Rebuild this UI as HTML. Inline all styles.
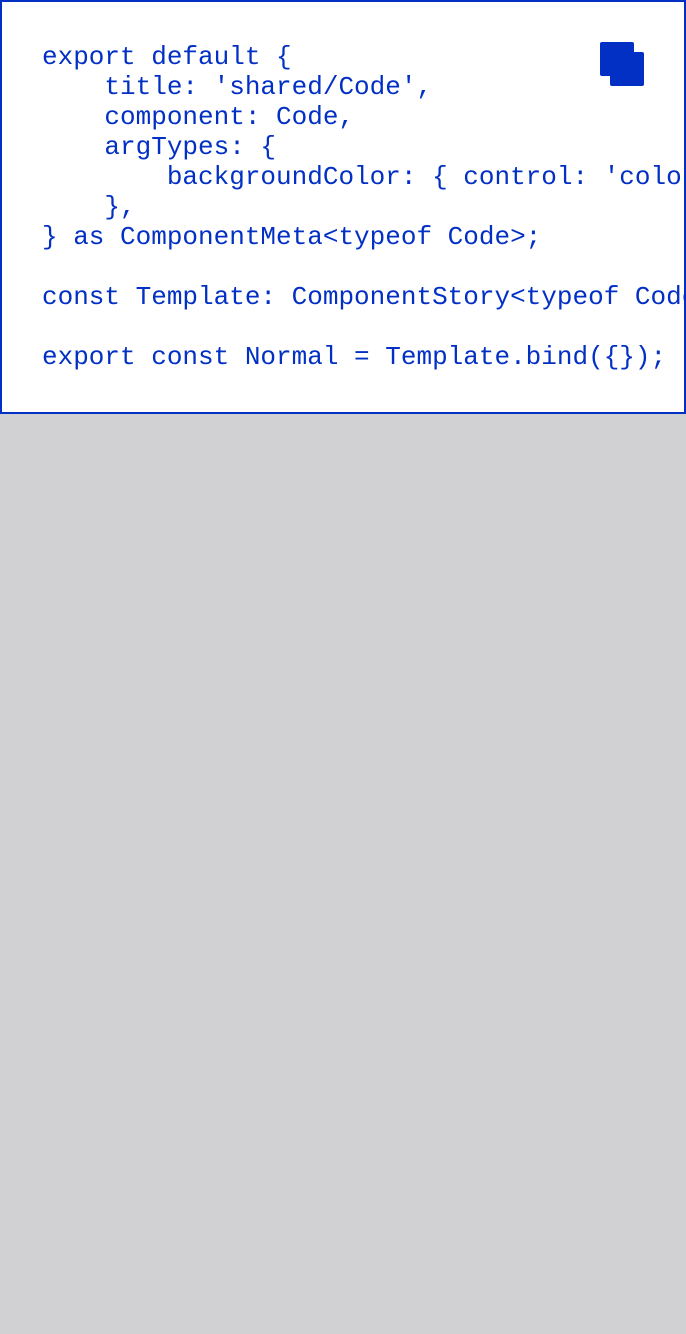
<!DOCTYPE html>
<html><head><meta charset="utf-8"><style>
html,body{margin:0;padding:0;width:686px;height:1334px;background:#d1d1d3;overflow:hidden}
.box{position:absolute;left:0;top:0;width:682px;height:410px;border:2px solid #0330c4;background:#fff;overflow:hidden}
pre{position:absolute;left:40px;top:40px;margin:0;font-family:"Liberation Mono",monospace;font-size:26px;line-height:30px;color:#0330c4;white-space:pre}
.i{position:absolute;background:#0330c4;border-radius:2px;width:34px;height:34px}
</style></head><body>
<div class="box">
<pre>export default {
    title: 'shared/Code',
    component: Code,
    argTypes: {
        backgroundColor: { control: 'color' },
    },
} as ComponentMeta&lt;typeof Code&gt;;

const Template: ComponentStory&lt;typeof Code&gt; = (args) =&gt; &lt;Code {...args} /&gt;;

export const Normal = Template.bind({});</pre>
<div class="i" style="left:598px;top:40px"></div>
<div class="i" style="left:608px;top:50px"></div>
</div>
</body></html>
